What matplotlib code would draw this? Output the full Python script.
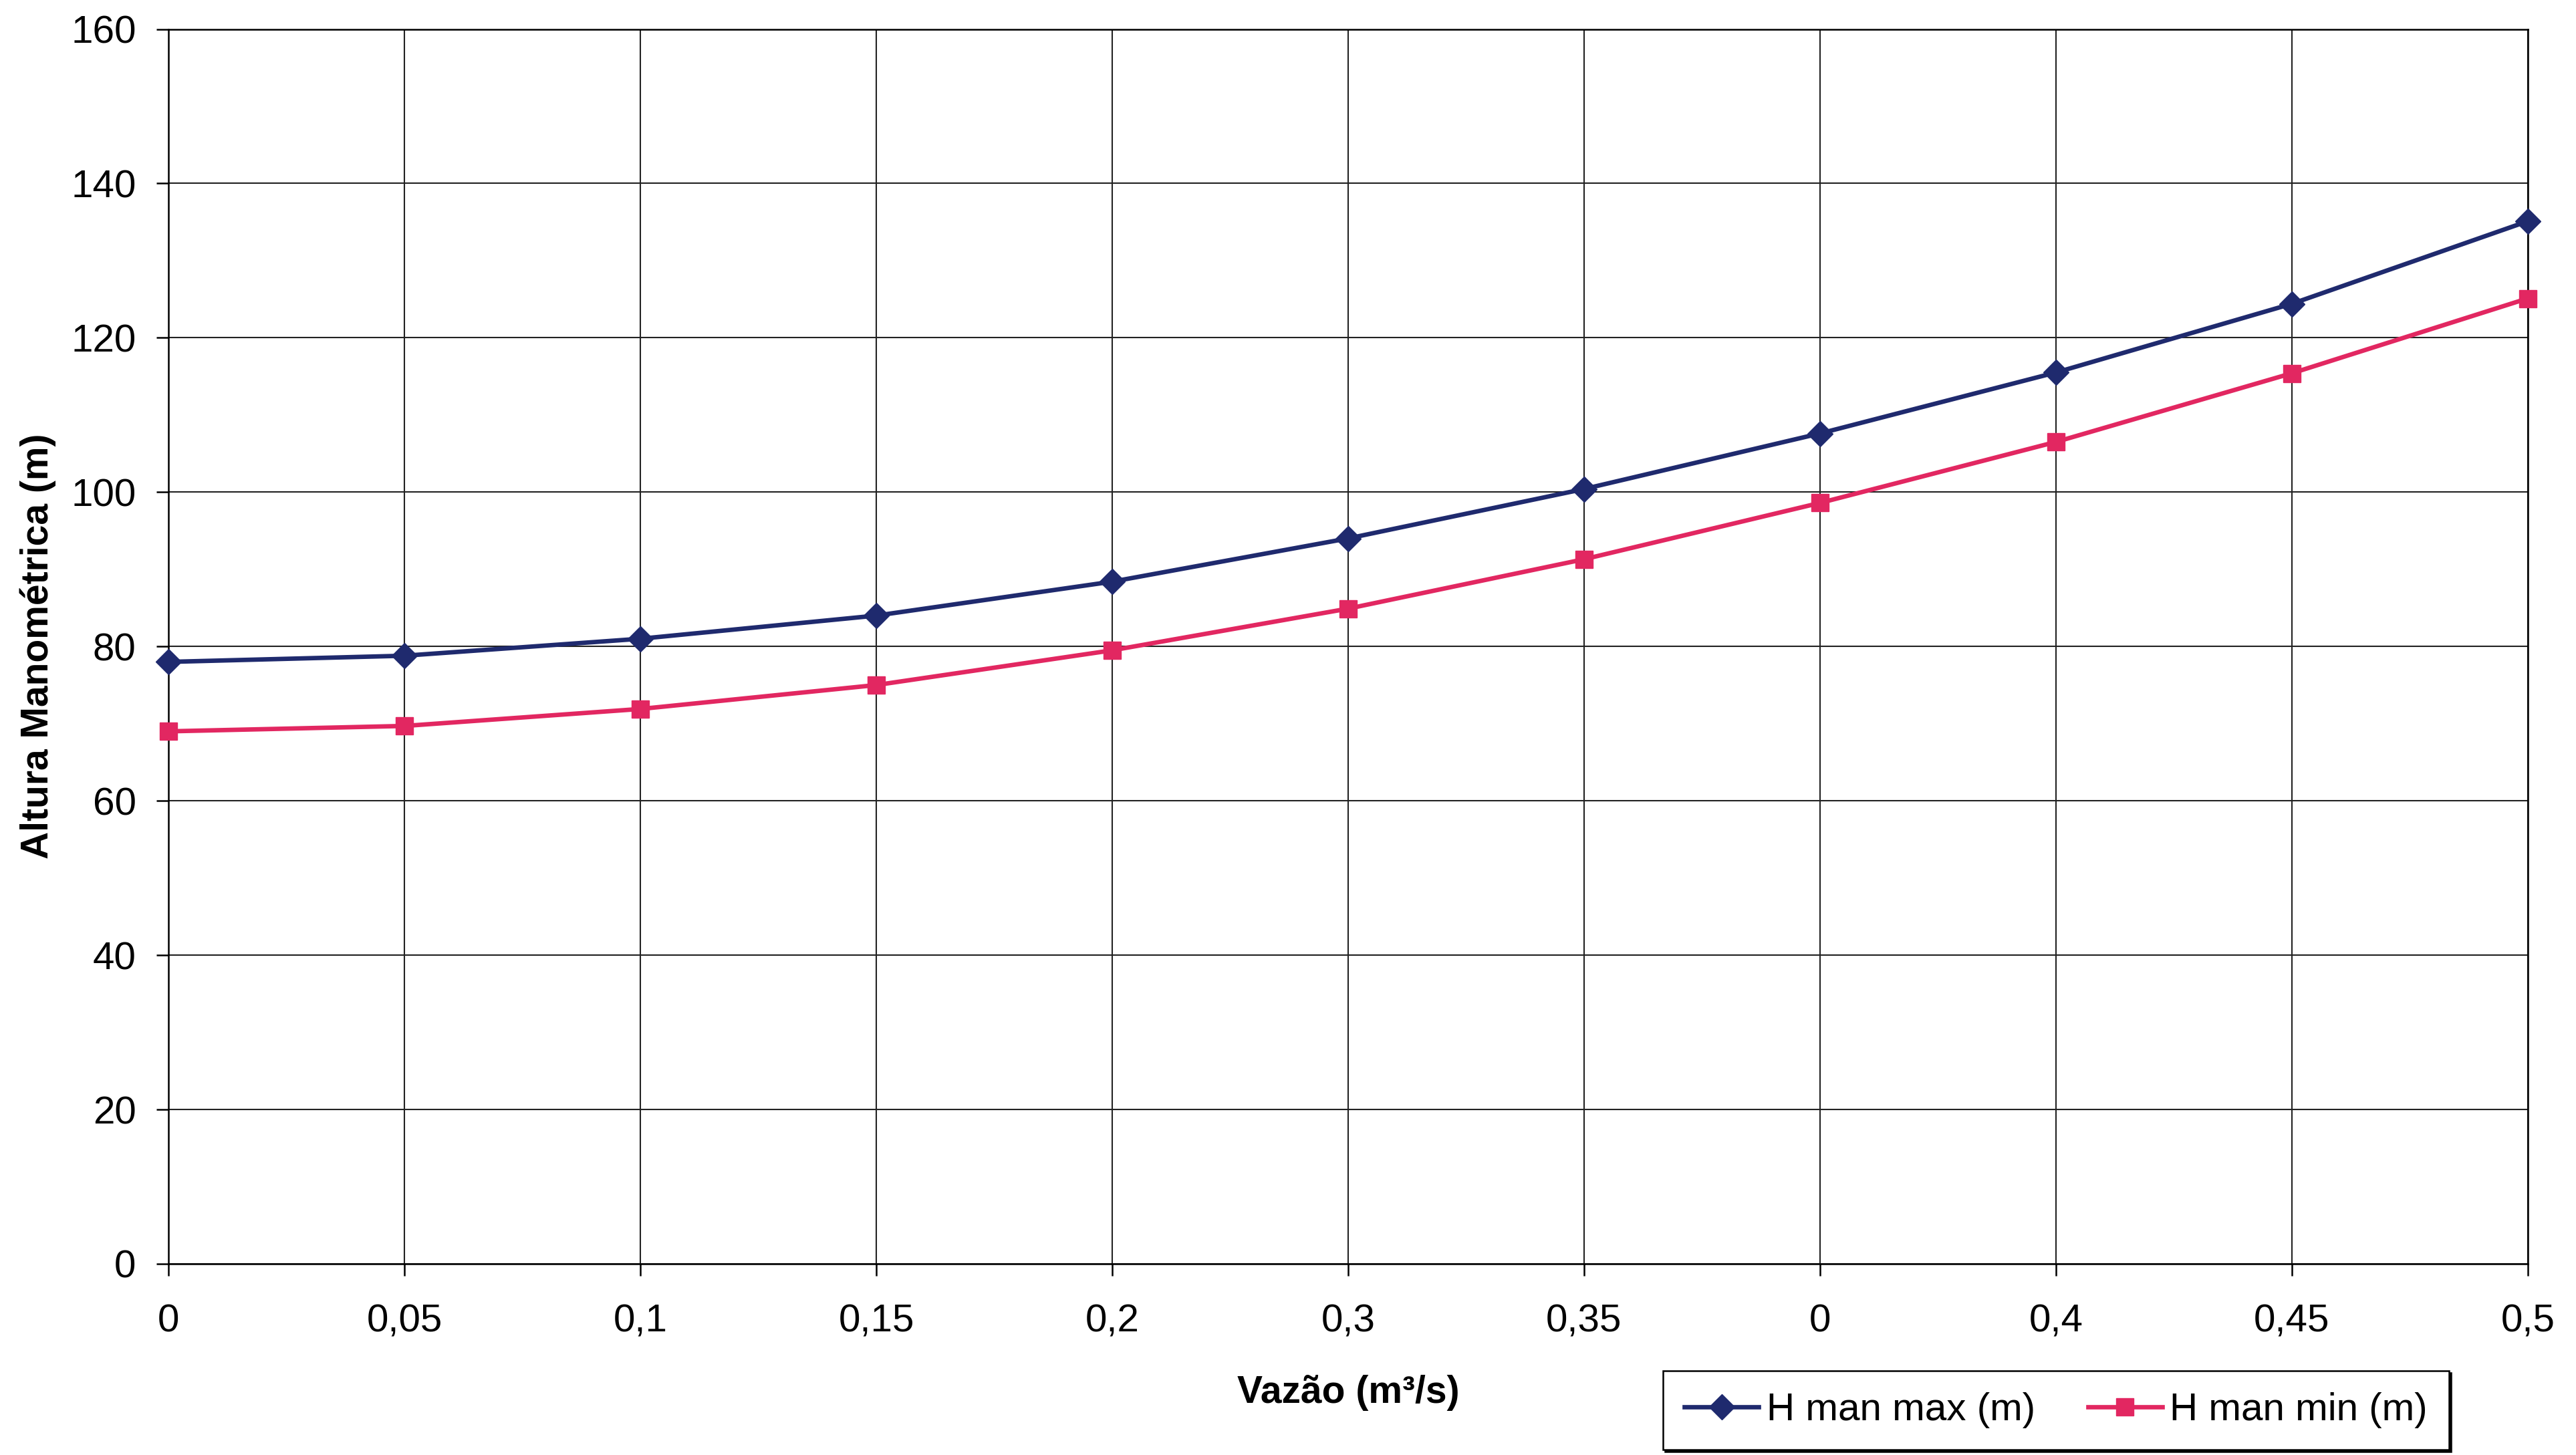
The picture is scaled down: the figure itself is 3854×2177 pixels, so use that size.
import matplotlib
matplotlib.use("Agg")
import matplotlib.pyplot as plt
import numpy as np

plt.rcParams['font.family'] = ['Liberation Sans', 'DejaVu Sans']

# vazão labels as printed on the chart (note the stray "0" in the 8th slot)
vazao_labels = ['0', '0,05', '0,1', '0,15', '0,2', '0,3', '0,35', '0', '0,4', '0,45', '0,5']
h_man_max = [78.0, 78.8, 81.0, 84.0, 88.4, 94.0, 100.4, 107.6, 115.5, 124.4, 135.1]
h_man_min = [69.0, 69.7, 71.9, 75.0, 79.5, 84.9, 91.3, 98.6, 106.5, 115.4, 125.1]
y_ticks = [0, 20, 40, 60, 80, 100, 120, 140, 160]

NAVY = '#1f2a6e'
PINK = '#e22761'

fig = plt.figure(figsize=(38.55, 21.77), dpi=100)
ax = fig.add_axes([0.0654, 0.1314, 0.9156, 0.8486])

x = np.arange(len(vazao_labels))
ax.plot(x, h_man_max, color=NAVY, lw=4.8, marker='D', ms=19,
        label='H man max (m)', zorder=3, clip_on=False)
ax.plot(x, h_man_min, color=PINK, lw=4.8, marker='s', ms=19,
        label='H man min (m)', zorder=3, clip_on=False)

ax.set_xlim(0, len(vazao_labels) - 1)
ax.set_ylim(0, 160)
ax.set_xticks(x)
ax.set_xticklabels(vazao_labels)
ax.set_yticks(y_ticks)

ax.grid(True, color='#222222', lw=1.5)
for s in ax.spines.values():
    s.set_color('black')
    s.set_linewidth(1.8)

ax.tick_params(axis='both', labelsize=42, length=13, width=1.8,
               direction='out', colors='black', pad=22)
ax.tick_params(axis='x', pad=30)

ax.set_xlabel('Vazão (m³/s)', fontsize=41, fontweight='bold', labelpad=38)
ax.set_ylabel('Altura Manométrica (m)', fontsize=41, fontweight='bold', labelpad=16)

leg = fig.legend(loc='lower left', bbox_to_anchor=(0.6455, 0.0035, 0.305, 0.055),
                 mode='expand', ncol=2, fontsize=42, frameon=True, fancybox=False,
                 shadow={'color': 'black', 'alpha': 1.0}, edgecolor='black',
                 handlelength=1.9, handletextpad=0.2, borderaxespad=0,
                 columnspacing=1.0, borderpad=0.55)
leg.get_frame().set_linewidth(1.8)

fig.savefig('out.png', dpi=100, facecolor='white')
